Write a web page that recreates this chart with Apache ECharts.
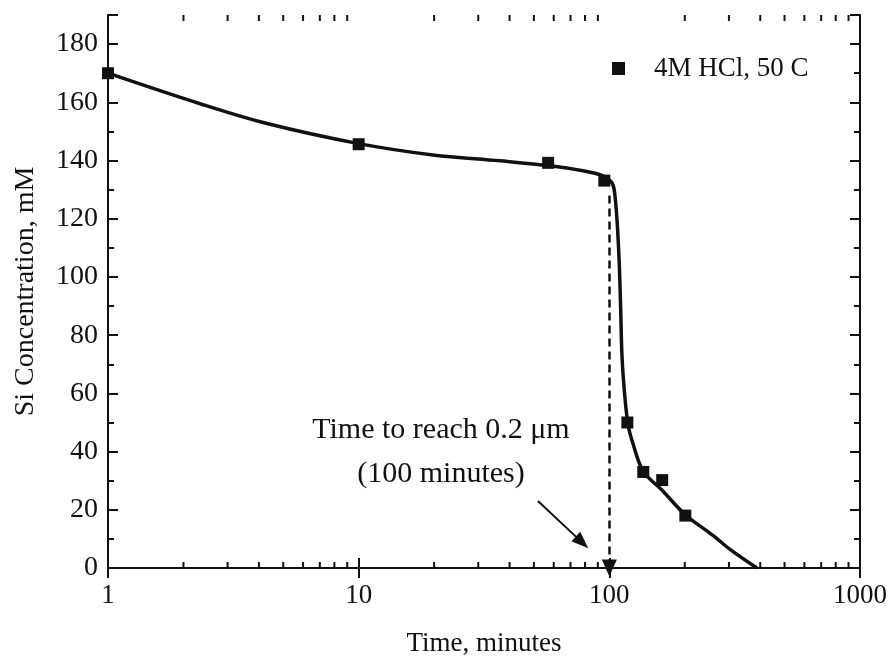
<!DOCTYPE html>
<html>
<head>
<meta charset="utf-8">
<script src="https://cdn.jsdelivr.net/npm/echarts@6/dist/echarts.min.js"></script>
<style>
  html, body { margin: 0; padding: 0; background: #fff; overflow: hidden; }
  #chart { width: 892px; height: 662px; }
</style>
</head>
<body>
<div id="chart"></div>
<script>
// Measured Si concentration (mM) against dissolution time (minutes)
const seriesName = '4M HCl, 50 C';
const measuredTime = [1, 10, 57, 95.5, 118, 136.6, 162.5, 201];
const measuredConc = [170, 145.6, 139.2, 133.1, 50, 33, 30.2, 18];

// Fitted trend through the measurements
const fitTime = [1, 2.33, 4.31, 10, 19.8, 36.6, 58, 78.5, 94, 102, 104.7, 107.6, 109.6, 110.9, 112.3, 114.5, 118.7, 124.3, 136.6, 162, 201, 259, 303, 388];
const fitConc = [170, 159.5, 152.7, 145.8, 141.9, 139.9, 138.2, 136.5, 134.8, 132.6, 129.7, 118, 104, 90, 73, 62, 49.4, 42.7, 33.2, 26.8, 18.3, 11.2, 6.4, 0];

// Marker for the time needed to reach 0.2 um
const markTime = 100;
const markTopConc = 128;
const noteText = 'Time to reach 0.2 \u03bcm\n(100 minutes)';
const noteAt = [21.3, 39.8];
const pointerFrom = [51.9, 23];
const pointerTo = [77.8, 8.8];

// Axis ranges and tick positions
const xMin = 1, xMax = 1000;
const yMin = 0, yMax = 190, yStep = 20;
const xMinorTicks = [2, 3, 4, 5, 6, 7, 8, 9, 20, 30, 40, 50, 60, 70, 80, 90, 200, 300, 400, 500, 600, 700, 800, 900];

const FONT = '"Liberation Serif", "Times New Roman", serif';
const INK = '#111';

const chart = echarts.init(document.getElementById('chart'), null, { renderer: 'canvas', width: 892, height: 662 });

const commonX = {
  type: 'log', logBase: 10, min: xMin, max: xMax,
  splitLine: { show: false },
  axisLine: { lineStyle: { color: INK, width: 2 } },
  axisTick: { inside: true, length: 10, lineStyle: { color: INK, width: 2 } },
  minorTick: { show: false }
};
const commonY = {
  type: 'value', min: yMin, max: yMax, interval: yStep,
  splitLine: { show: false },
  axisLine: { show: true, lineStyle: { color: INK, width: 2 } },
  axisTick: { show: true, inside: true, length: 10, lineStyle: { color: INK, width: 2 } },
  minorTick: { show: true, splitNumber: 2, length: 6, lineStyle: { color: INK, width: 2 } }
};

const option = {
  backgroundColor: '#fff',
  animation: false,
  grid: { left: 108, right: 32, top: 15, bottom: 86, containLabel: false },
  legend: {
    data: [seriesName],
    left: 607, top: 50,
    itemWidth: 13, itemHeight: 13,
    icon: 'rect',
    itemStyle: { color: INK, opacity: 1 },
    textStyle: { fontFamily: FONT, fontSize: 27, color: INK, padding: [0, 0, 0, 24] }
  },
  xAxis: [
    Object.assign({}, commonX, {
      position: 'bottom',
      name: 'Time, minutes', nameLocation: 'middle', nameGap: 62,
      nameTextStyle: { fontFamily: FONT, fontSize: 27, color: INK },
      axisLabel: { fontFamily: FONT, fontSize: 27, color: INK, margin: 14, formatter: v => String(Math.round(v)) }
    }),
    Object.assign({}, commonX, { position: 'top', axisLabel: { show: false } })
  ],
  yAxis: [
    Object.assign({}, commonY, {
      position: 'left',
      name: 'Si Concentration, mM', nameLocation: 'middle', nameGap: 68,
      nameTextStyle: { fontFamily: FONT, fontSize: 28, color: INK },
      axisLabel: { fontFamily: FONT, fontSize: 28, color: INK, margin: 10, showMaxLabel: false }
    }),
    Object.assign({}, commonY, { position: 'right', axisLabel: { show: false } })
  ],
  series: [
    {
      name: 'fit',
      type: 'line',
      data: fitTime.map((t, i) => [t, fitConc[i]]),
      smooth: 0.35,
      showSymbol: false,
      lineStyle: { color: INK, width: 3.5 },
      z: 3,
      markLine: {
        silent: true,
        animation: false,
        label: { show: false },
        data: [
          [
            { coord: [markTime, markTopConc], symbol: 'none' },
            { coord: [markTime, yMin], symbol: 'triangle', symbolSize: [15, 17] }
          ],
          [
            { coord: pointerFrom, symbol: 'none', lineStyle: { type: 'solid', width: 2 } },
            { coord: pointerTo, symbol: 'triangle', symbolSize: [13, 17] }
          ]
        ],
        lineStyle: { color: INK, width: 2.5, type: [8, 5] }
      },
      markPoint: {
        silent: true,
        symbolSize: 0,
        data: [{ coord: noteAt, value: 0 }],
        label: {
          show: true,
          formatter: noteText,
          position: 'inside',
          fontFamily: FONT, fontSize: 30, color: INK,
          lineHeight: 44, align: 'center', verticalAlign: 'middle'
        }
      }
    },
    {
      name: seriesName,
      type: 'scatter',
      data: measuredTime.map((t, i) => [t, measuredConc[i]]),
      symbol: 'rect',
      symbolSize: 12,
      itemStyle: { color: INK, opacity: 1 },
      z: 4
    },
    {
      // minor ticks between decades on the bottom and top log axes
      name: 'xminor',
      type: 'custom',
      data: xMinorTicks.map(v => [v]),
      encode: { x: 0 },
      silent: true,
      clip: false,
      z: 5,
      renderItem: function (params, api) {
        const v = api.value(0);
        const b = api.coord([v, yMin]);
        const t = api.coord([v, yMax]);
        const st = { stroke: INK, lineWidth: 2 };
        return {
          type: 'group',
          children: [
            { type: 'line', shape: { x1: b[0], y1: b[1], x2: b[0], y2: b[1] - 6 }, style: st },
            { type: 'line', shape: { x1: t[0], y1: t[1], x2: t[0], y2: t[1] + 6 }, style: st }
          ]
        };
      }
    }
  ]
};

chart.setOption(option);
</script>
</body>
</html>
